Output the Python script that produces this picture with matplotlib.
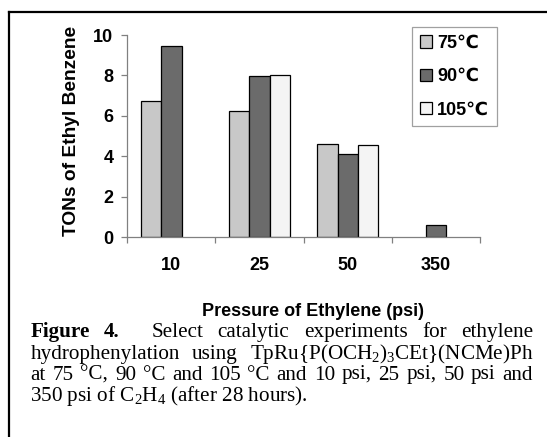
import numpy as np
import matplotlib
matplotlib.use('Agg')
from matplotlib import pyplot as plt
from matplotlib.lines import Line2D

W, H = 547, 437

pressures = ['10', '25', '50', '350']
temps = ['75℃', '90℃', '105℃']
ton_75 = [6.75, 6.25, 4.62, np.nan]
ton_90 = [9.45, 7.95, 4.13, 0.63]
ton_105 = [np.nan, 8.0, 4.54, np.nan]
colors = ['#c8c8c8', '#6b6b6b', '#f4f4f4']

caption = [
    [('Figure', True), ('4.', True), ('Select', False), ('catalytic', False),
     ('experiments', False), ('for', False), ('ethylene', False)],
    [('hydrophenylation', False), ('using', False),
     (r'TpRu{P(OCH$_2$)$_3$CEt}(NCMe)Ph', False)],
    [('at', False), ('75', False), ('°C,', False), ('90', False), ('°C', False), ('and', False),
     ('105', False), ('°C', False), ('and', False), ('10', False), ('psi,', False),
     ('25', False), ('psi,', False), ('50', False), ('psi', False), ('and', False)],
]
last_line = r'350 psi of C$_2$H$_4$ (after 28 hours).'

plt.rcParams['font.family'] = ['Liberation Sans', 'DejaVu Sans']
plt.rcParams['mathtext.fontset'] = 'custom'
plt.rcParams['mathtext.rm'] = 'Liberation Serif'
plt.rcParams['mathtext.it'] = 'Liberation Serif:italic'
plt.rcParams['mathtext.bf'] = 'Liberation Serif:bold'


def fx(px):
    return px / W


def fy(py):
    return 1 - py / H


fig = plt.figure(figsize=(W / 100, H / 100), dpi=100)
fig.patch.set_facecolor('white')

# outer frame (only top and left visible in the crop)
fig.add_artist(Line2D([fx(9.3), fx(9.3)], [0, fy(11.7)], color='black', lw=1.6))
fig.add_artist(Line2D([fx(9.3), 1], [fy(11.7), fy(11.7)], color='black', lw=1.6))

x0, x1, y0, y1 = 127.3, 480, 237.3, 35
ax = fig.add_axes([fx(x0), fy(y0), fx(x1) - fx(x0), fy(y1) - fy(y0)])

x = np.arange(len(pressures))
bw = 0.23
for i, (vals, lab, c) in enumerate(zip([ton_75, ton_90, ton_105], temps, colors)):
    ax.bar(x + (i - 1) * bw, vals, bw, color=c, edgecolor='black', linewidth=0.9, label=lab)

ax.set_xlim(-0.5, len(pressures) - 0.5)
ax.set_ylim(0, 10)
ax.set_yticks([0, 2, 4, 6, 8, 10])
ax.set_xticks(x)
ax.set_xticklabels(pressures)
ax.set_xticks(np.arange(-0.5, len(pressures)), minor=True)
for s in ['top', 'right']:
    ax.spines[s].set_visible(False)
for s in ['left', 'bottom']:
    ax.spines[s].set_color('#808080')
    ax.spines[s].set_linewidth(0.9)
ax.tick_params(axis='x', which='major', length=0, pad=14, labelsize=13)
ax.tick_params(axis='x', which='minor', length=4, color='#808080', width=0.9)
ax.tick_params(axis='y', length=4, color='#808080', width=0.9, pad=6, labelsize=13)
for t in ax.get_xticklabels() + ax.get_yticklabels():
    t.set_fontweight('bold')

ax.set_ylabel('TONs of Ethyl Benzene', fontsize=13.8, fontweight='bold')
ax.yaxis.set_label_coords((80 - x0) / (x1 - x0), (y0 - 131) / (y0 - y1))
ax.set_xlabel('Pressure of Ethylene (psi)', fontsize=13, fontweight='bold')
ax.xaxis.set_label_coords((313 - x0) / (x1 - x0), (y0 - 303) / (y0 - y1))

leg = ax.legend(loc='upper left', bbox_to_anchor=(fx(411.7), fy(26.7)),
                bbox_transform=fig.transFigure, borderaxespad=0, fancybox=False,
                edgecolor='#a0a0a0', framealpha=1, handlelength=0.65, handleheight=0.65,
                handletextpad=0.3, labelspacing=0.9, borderpad=0.45,
                prop={'weight': 'bold', 'size': 13})
leg.get_frame().set_linewidth(0.9)

# justified caption
cap_left, cap_right = 30.5, 533
baselines = [337, 358.5, 379.5, 400.5]
cap_size = 15.2
renderer = fig.canvas.get_renderer()
for line, base in zip(caption, baselines):
    texts = []
    for word, bold in line:
        t = fig.text(0, fy(base), word, fontsize=cap_size, va='baseline',
                     family='Liberation Serif', fontweight='bold' if bold else 'normal')
        texts.append(t)
    widths = [t.get_window_extent(renderer).width for t in texts]
    weights = [2.2 if line[k][0] == '4.' else 1.0 for k in range(len(line) - 1)]
    gap = max((cap_right - cap_left - sum(widths)) / sum(weights), 2.5)
    pos = cap_left
    for k, t in enumerate(texts):
        t.set_x(fx(pos))
        if k < len(weights):
            pos += widths[k] + gap * weights[k]
fig.text(fx(cap_left), fy(baselines[3]), last_line, fontsize=cap_size, va='baseline',
         family='Liberation Serif')

fig.savefig('out.png', dpi=100)
